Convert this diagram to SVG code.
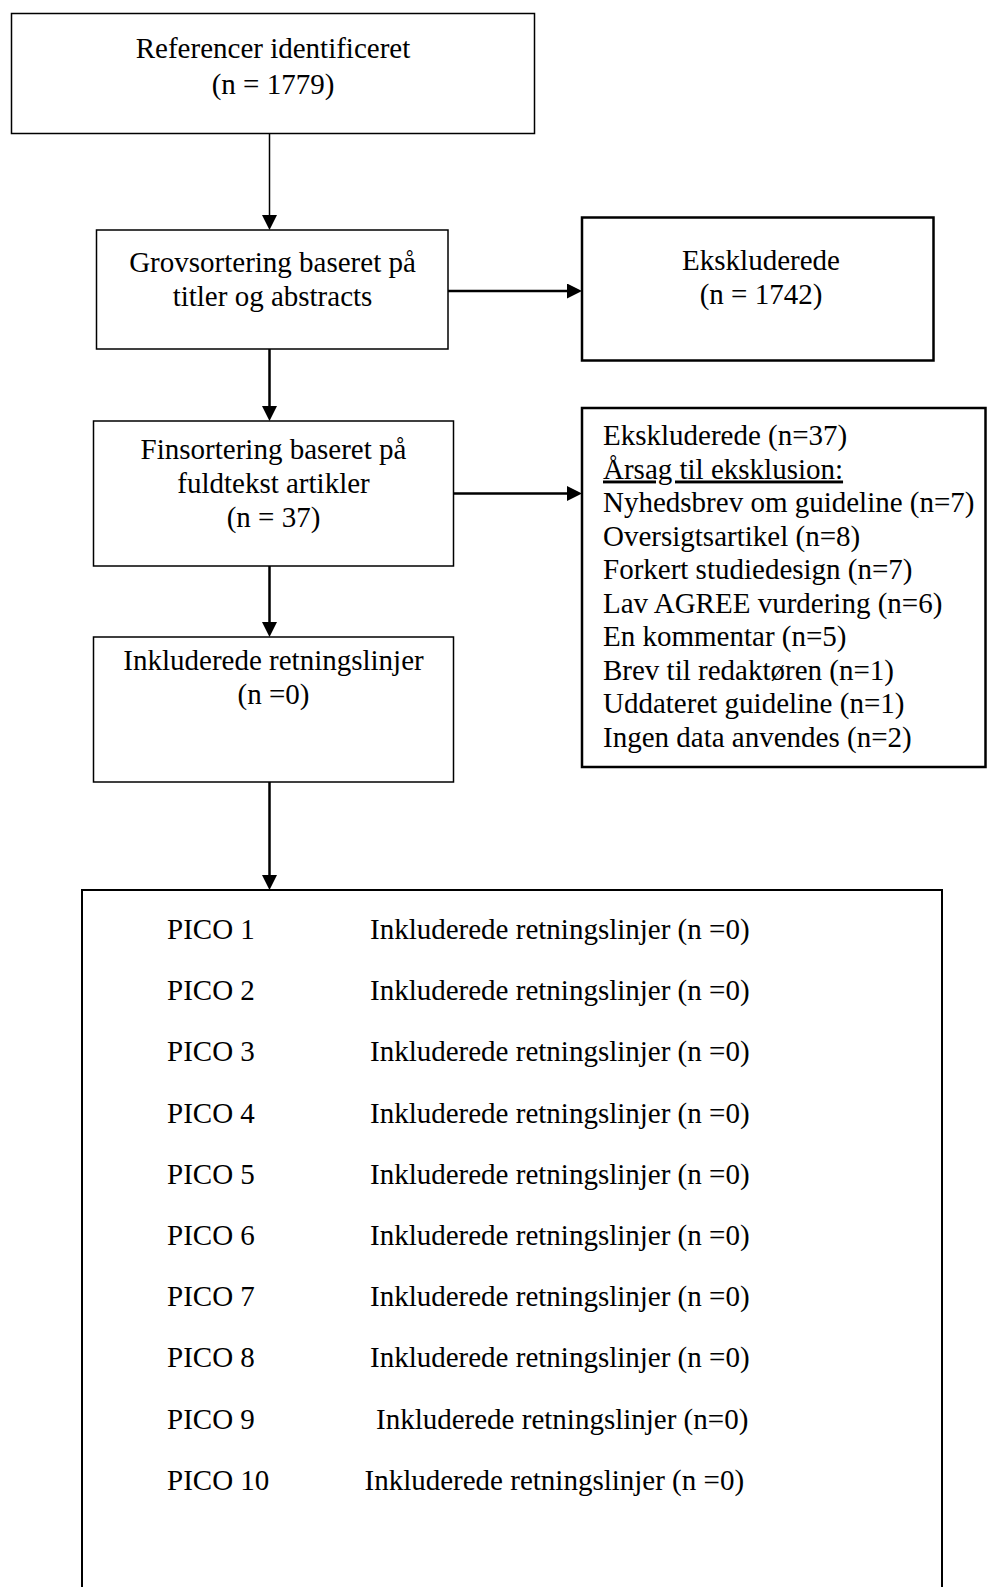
<svg xmlns="http://www.w3.org/2000/svg" width="987" height="1587" viewBox="0 0 987 1587">
<style>
  .bg { fill: #ffffff; }
  .box { fill: #ffffff; stroke: #000000; }
  .thin { stroke-width: 1.5; }
  .thick { stroke-width: 2.5; }
  .t { font-family: "Liberation Serif", "Times New Roman", serif; font-size: 29px; fill: #000000; }
  .c { text-anchor: middle; }
  .conn { stroke: #000000; fill: none; }
</style>
<defs>
  <marker id="ah" markerUnits="userSpaceOnUse" markerWidth="16" markerHeight="16" refX="7" refY="7.5" orient="auto" viewBox="0 0 16 16">
    <path d="M0,0 L15,7.5 L0,15 z" fill="#000000"/>
  </marker>
</defs>
<rect class="bg" x="0" y="0" width="987" height="1587"/>

<g id="connectors">
  <line class="conn" x1="269.5" y1="133" x2="269.5" y2="222" stroke-width="1.5" marker-end="url(#ah)"/>
  <line class="conn" x1="448" y1="291" x2="574" y2="291" stroke-width="2.5" marker-end="url(#ah)"/>
  <line class="conn" x1="269.5" y1="349" x2="269.5" y2="413" stroke-width="2.5" marker-end="url(#ah)"/>
  <line class="conn" x1="453.5" y1="493.5" x2="574" y2="493.5" stroke-width="2.5" marker-end="url(#ah)"/>
  <line class="conn" x1="269.5" y1="566" x2="269.5" y2="629" stroke-width="2.5" marker-end="url(#ah)"/>
  <line class="conn" x1="269.5" y1="782" x2="269.5" y2="882" stroke-width="2.5" marker-end="url(#ah)"/>
</g>

<g id="node-referencer">
  <rect class="box thin" x="11.5" y="13.5" width="523" height="120"/>
  <text class="t c" x="273" y="58">Referencer identificeret</text>
  <text class="t c" x="273" y="94">(n = 1779)</text>
</g>

<g id="node-grovsortering">
  <rect class="box thin" x="96.5" y="230" width="351.5" height="119"/>
  <text class="t c" x="272.5" y="272">Grovsortering baseret på</text>
  <text class="t c" x="272.5" y="305.5">titler og abstracts</text>
</g>

<g id="node-ekskluderede-1742">
  <rect class="box thick" x="582" y="217.5" width="351.5" height="143"/>
  <text class="t c" x="761" y="270">Ekskluderede</text>
  <text class="t c" x="761" y="303.5">(n = 1742)</text>
</g>

<g id="node-finsortering">
  <rect class="box thin" x="93.5" y="421" width="360" height="145"/>
  <text class="t c" x="273.5" y="459">Finsortering baseret på</text>
  <text class="t c" x="273.5" y="493">fuldtekst artikler</text>
  <text class="t c" x="273.5" y="527">(n = 37)</text>
</g>

<g id="node-ekskluderede-37">
  <rect class="box thick" x="582" y="408" width="403.5" height="359"/>
  <text class="t" x="603" y="445">Ekskluderede (n=37)</text>
  <text class="t" x="603" y="478.5" text-decoration="underline">Årsag til eksklusion:</text>
  <text class="t" x="603" y="512">Nyhedsbrev om guideline (n=7)</text>
  <text class="t" x="603" y="545.5">Oversigtsartikel (n=8)</text>
  <text class="t" x="603" y="579">Forkert studiedesign (n=7)</text>
  <text class="t" x="603" y="612.5">Lav AGREE vurdering (n=6)</text>
  <text class="t" x="603" y="646">En kommentar (n=5)</text>
  <text class="t" x="603" y="679.5">Brev til redaktøren (n=1)</text>
  <text class="t" x="603" y="713">Uddateret guideline (n=1)</text>
  <text class="t" x="603" y="746.5">Ingen data anvendes (n=2)</text>
</g>

<g id="node-inkluderede">
  <rect class="box thin" x="93.5" y="637" width="360" height="145"/>
  <text class="t c" x="273.5" y="670">Inkluderede retningslinjer</text>
  <text class="t c" x="273.5" y="704">(n =0)</text>
</g>

<g id="node-pico">
  <rect class="box" stroke-width="2" x="82" y="890" width="860" height="760"/>
  <text class="t" x="167" y="939">PICO 1</text>
  <text class="t" x="370" y="939">Inkluderede retningslinjer (n =0)</text>
  <text class="t" x="167" y="1000.2">PICO 2</text>
  <text class="t" x="370" y="1000.2">Inkluderede retningslinjer (n =0)</text>
  <text class="t" x="167" y="1061.4">PICO 3</text>
  <text class="t" x="370" y="1061.4">Inkluderede retningslinjer (n =0)</text>
  <text class="t" x="167" y="1122.6">PICO 4</text>
  <text class="t" x="370" y="1122.6">Inkluderede retningslinjer (n =0)</text>
  <text class="t" x="167" y="1183.8">PICO 5</text>
  <text class="t" x="370" y="1183.8">Inkluderede retningslinjer (n =0)</text>
  <text class="t" x="167" y="1245">PICO 6</text>
  <text class="t" x="370" y="1245">Inkluderede retningslinjer (n =0)</text>
  <text class="t" x="167" y="1306.2">PICO 7</text>
  <text class="t" x="370" y="1306.2">Inkluderede retningslinjer (n =0)</text>
  <text class="t" x="167" y="1367.4">PICO 8</text>
  <text class="t" x="370" y="1367.4">Inkluderede retningslinjer (n =0)</text>
  <text class="t" x="167" y="1428.6">PICO 9</text>
  <text class="t" x="376" y="1428.6">Inkluderede retningslinjer (n=0)</text>
  <text class="t" x="167" y="1489.8">PICO 10</text>
  <text class="t" x="364.5" y="1489.8">Inkluderede retningslinjer (n =0)</text>
</g>
</svg>
